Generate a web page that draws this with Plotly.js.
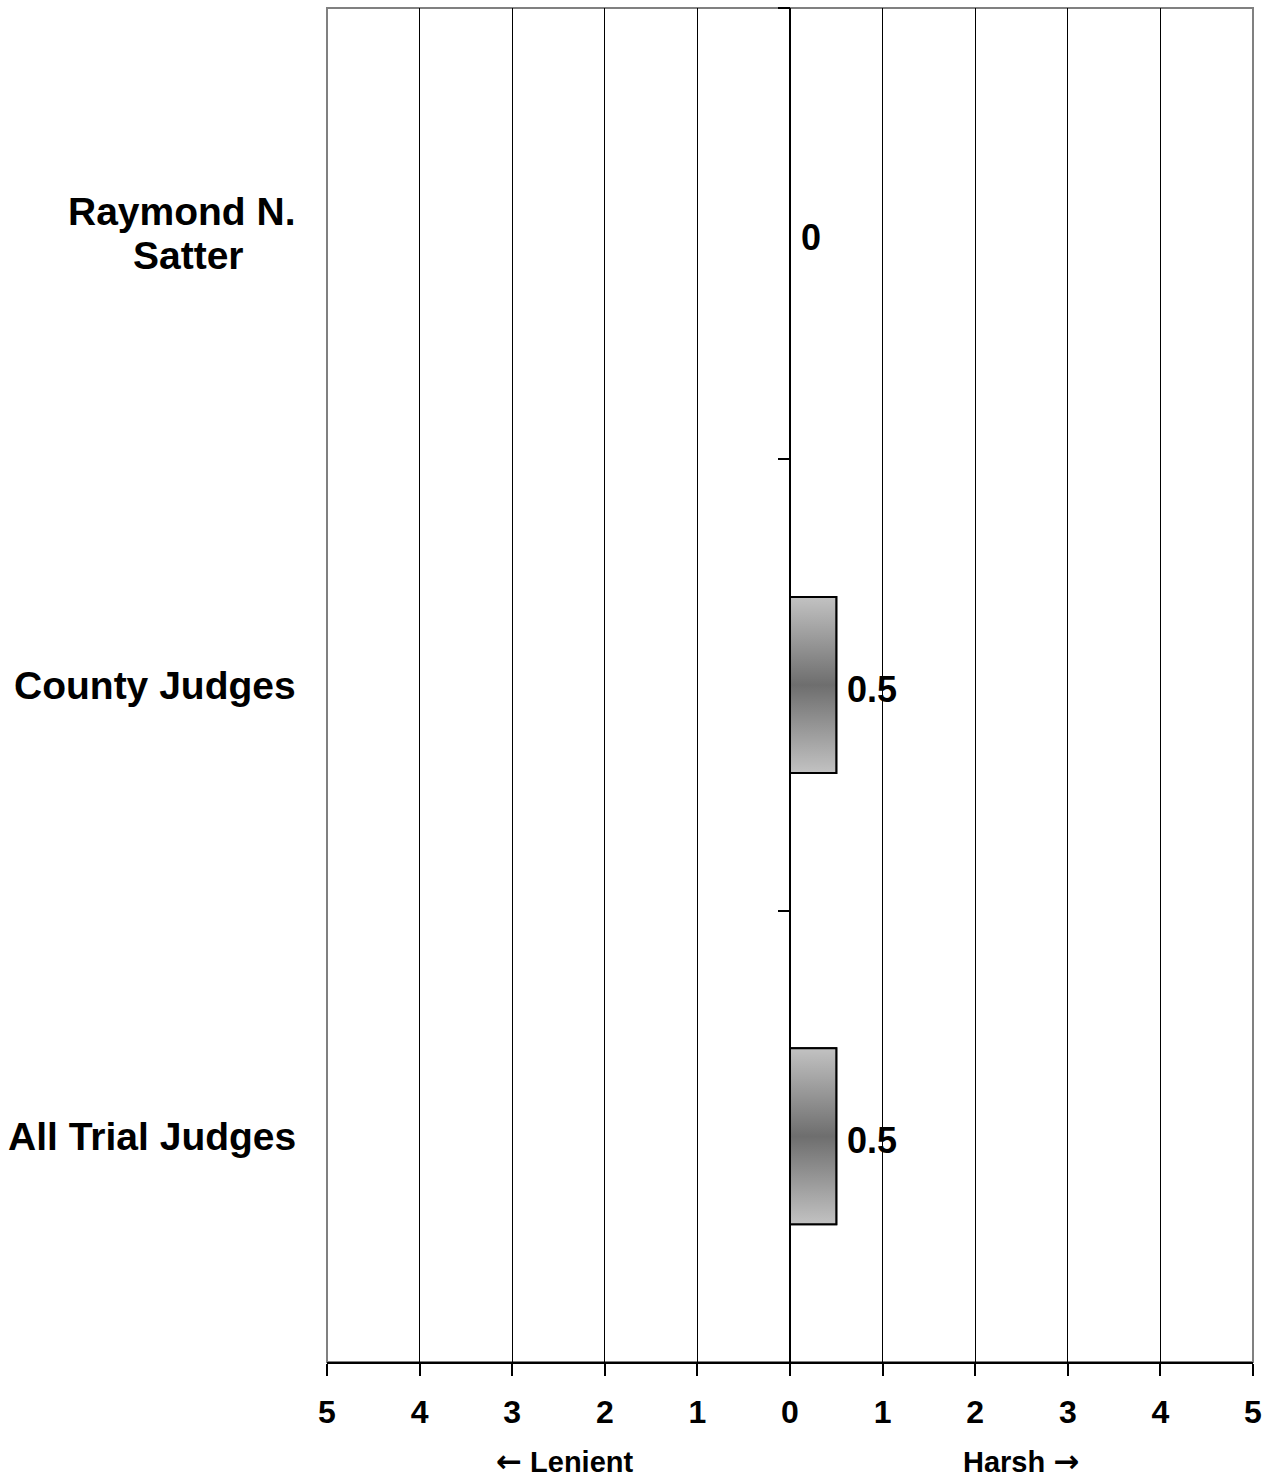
<!DOCTYPE html>
<html>
<head>
<meta charset="utf-8">
<script src="https://cdn.plot.ly/plotly-3.0.1.min.js"></script>
<style>html,body{margin:0;padding:0;background:#fff;}#chart{width:1262px;height:1480px;}</style>
</head>
<body>
<div id="chart"></div>
<script>
// ---- data ----
const categories = ['Raymond N.<br>Satter', 'County Judges', 'All Trial Judges'];
const values = [0, 0.5, 0.5];
const dataLabels = ['0', '0.5', '0.5'];
const xTickVals = [-5, -4, -3, -2, -1, 0, 1, 2, 3, 4, 5];
const xTickLabels = ['5', '4', '3', '2', '1', '0', '1', '2', '3', '4', '5'];
const directionLabels = [
  '<span style="font-family:DejaVu Sans;font-size:31px">\u2190</span> Lenient',
  'Harsh <span style="font-family:DejaVu Sans;font-size:31px">\u2192</span>'
];

// ---- style ----
const FONT = 'Liberation Sans, Arial, Helvetica, sans-serif';
const BAR_WIDTH = 0.39;
const LINE_GAP = 44;
const catPos = categories.map((c, i) => i);

const traces = [];
traces.push({
  type: 'bar',
  orientation: 'h',
  x: values,
  y: catPos,
  width: BAR_WIDTH,
  marker: {color: '#9a9a9a', line: {color: '#000', width: 2}},
  hoverinfo: 'x',
  showlegend: false
});
values.forEach((v, i) => {
  const h = BAR_WIDTH / 2;
  traces.push({
    type: 'scatter',
    mode: 'lines',
    x: [0, v, v, 0, 0],
    y: [i - h, i - h, i + h, i + h, i - h],
    yaxis: 'y2',
    fill: 'toself',
    fillgradient: {
      type: 'vertical',
      colorscale: [[0, '#c2c2c2'], [0.5, '#6e6e6e'], [1, '#c2c2c2']]
    },
    line: {color: '#000', width: 2},
    hoverinfo: 'skip',
    showlegend: false
  });
});

const annotations = [];
categories.forEach((c, i) => {
  const lines = c.split('<br>');
  const n = lines.length;
  // widest line determines the right edge; other lines are centred on it
  lines.forEach((ln, j) => {
    annotations.push({
      xref: 'paper', yref: 'y', x: 0, y: catPos[i],
      xanchor: j === 0 ? 'right' : 'center', yanchor: 'middle',
      xshift: j === 0 ? -29 : -139,
      yshift: ((n - 1) / 2 - j) * LINE_GAP,
      showarrow: false, text: ln,
      font: {family: FONT, size: 39, weight: 'bold', color: '#000'}
    });
  });
  annotations.push({
    xref: 'x', yref: 'y', x: values[i], y: catPos[i],
    xanchor: 'left', yanchor: 'middle', xshift: 9, yshift: -4,
    showarrow: false, text: dataLabels[i],
    font: {family: FONT, size: 36, weight: 'bold', color: '#000'}
  });
});
[0.256, 0.749].forEach((px, k) => {
  annotations.push({
    xref: 'paper', yref: 'paper', x: px, y: 0,
    xanchor: 'center', yanchor: 'middle', yshift: -99,
    showarrow: false, text: directionLabels[k],
    font: {family: FONT, size: 29, weight: 'bold', color: '#000'}
  });
});

const layout = {
  width: 1262, height: 1480,
  margin: {l: 327, r: 9, t: 8, b: 118, pad: 0},
  paper_bgcolor: '#fff', plot_bgcolor: '#fff',
  showlegend: false,
  bargap: 0,
  font: {family: FONT, color: '#000'},
  xaxis: {
    range: [-5, 5], fixedrange: true,
    tickvals: xTickVals, ticktext: xTickLabels,
    ticks: 'outside', ticklen: 12, tickwidth: 2, tickcolor: '#000',
    ticklabelstandoff: 9,
    tickfont: {family: FONT, size: 32, weight: 'bold', color: '#000'},
    showline: true, linecolor: '#000', linewidth: 2,
    showgrid: false,
    minor: {tickvals: [-4, -3, -2, -1, 1, 2, 3, 4], showgrid: true, gridcolor: '#000', gridwidth: 1, ticks: ''},
    zeroline: true, zerolinecolor: '#000', zerolinewidth: 2
  },
  yaxis: {
    range: [2.5, -0.5], fixedrange: true,
    showticklabels: false, showgrid: false, zeroline: false, showline: false, ticks: ''
  },
  yaxis2: {
    overlaying: 'y', anchor: 'free', position: 0.5, side: 'left',
    range: [2.5, -0.5], fixedrange: true,
    tickvals: [-0.5, 0.5, 1.5],
    ticks: 'outside', ticklen: 12, tickwidth: 2, tickcolor: '#000',
    showticklabels: false, showgrid: false, zeroline: false, showline: false
  },
  shapes: [{
    type: 'rect', xref: 'paper', yref: 'paper', x0: 0, x1: 1, y0: 0, y1: 1,
    line: {color: '#808080', width: 2}, layer: 'below'
  }],
  annotations: annotations
};

Plotly.newPlot('chart', traces, layout, {displayModeBar: false, staticPlot: true});
</script>
</body>
</html>
